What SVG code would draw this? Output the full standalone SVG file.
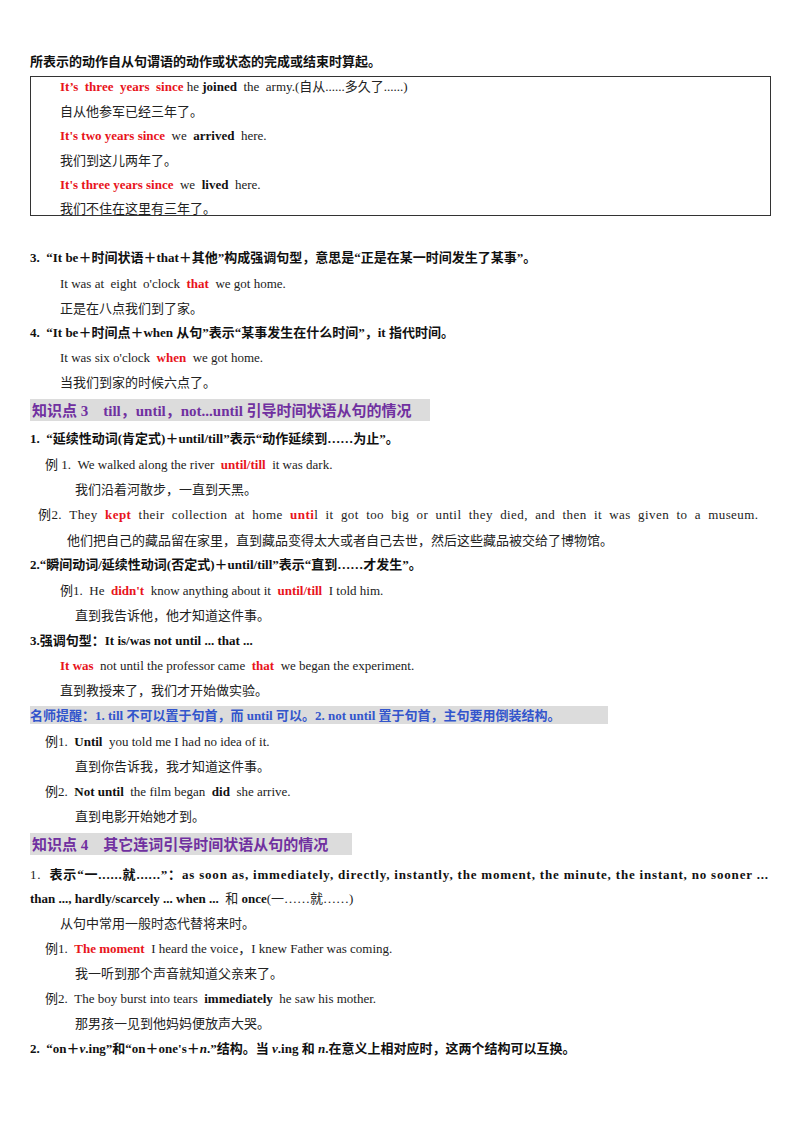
<svg xmlns="http://www.w3.org/2000/svg" width="800" height="1132" viewBox="0 0 800 1132" xml:space="preserve">
<style>
text{font-family:"Liberation Serif","Noto Sans CJK SC",serif;font-size:13px;fill:#222;white-space:pre}
.b{font-weight:bold;fill:#111}
.r{fill:#e8141b;font-weight:bold}
.h{font-size:15px;font-weight:bold;fill:#7030a0}
.m{font-weight:bold;fill:#3355cc}
.hl{fill:#dcdcdc}
</style>
<rect width="800" height="1132" fill="#fff"/>
<g id="box"><rect x="30.5" y="76.5" width="740" height="139" fill="none" stroke="#333" stroke-width="1"/></g>
<g id="hl">
<rect class="hl" x="30" y="399" width="400" height="22"/>
<rect class="hl" x="30" y="706" width="578" height="18"/>
<rect class="hl" x="30" y="833" width="322" height="22"/>
</g>
<g id="texts">
<text x="30" y="66" class="b">所表示的动作自从句谓语的动作或状态的完成或结束时算起。</text>
<text x="60" y="91"><tspan class="r">It’s  three  years  since</tspan> he <tspan class="b">joined</tspan>  the  army.(自从......多久了......)</text>
<text x="60" y="116">自从他参军已经三年了。</text>
<text x="60" y="140"><tspan class="r">It's two years since</tspan>  we  <tspan class="b">arrived</tspan>  here.</text>
<text x="60" y="165">我们到这儿两年了。</text>
<text x="60" y="189"><tspan class="r">It's three years since</tspan>  we  <tspan class="b">lived</tspan>  here.</text>
<text x="60" y="213">我们不住在这里有三年了。</text>
<text x="30" y="262" class="b">3.  “It be＋时间状语＋that＋其他”构成强调句型，意思是“正是在某一时间发生了某事”。</text>
<text x="60" y="288">It was at  eight  o'clock  <tspan class="r">that</tspan>  we got home.</text>
<text x="60" y="313">正是在八点我们到了家。</text>
<text x="30" y="337" class="b">4.  “It be＋时间点＋when 从句”表示“某事发生在什么时间”，it 指代时间。</text>
<text x="60" y="362">It was six o'clock  <tspan class="r">when</tspan>  we got home.</text>
<text x="60" y="387">当我们到家的时候六点了。</text>
<text x="32" y="416" class="h">知识点 3    till，until，not...until 引导时间状语从句的情况</text>
<text x="30" y="443" class="b">1.  “延续性动词(肯定式)＋until/till”表示“动作延续到……为止”。</text>
<text x="45" y="469">例 1.  We walked along the river  <tspan class="r">until/till</tspan>  it was dark.</text>
<text x="75" y="494">我们沿着河散步，一直到天黑。</text>
<text x="38" y="519" textLength="720" lengthAdjust="spacing">例2.  They  <tspan class="r">kept</tspan>  their  collection  at  home  <tspan class="r">unti</tspan>l  it  got  too  big  or  until  they  died,  and  then  it  was  given  to  a  museum.</text>
<text x="67" y="545">他们把自己的藏品留在家里，直到藏品变得太大或者自己去世，然后这些藏品被交给了博物馆。</text>
<text x="30" y="569" class="b">2.“瞬间动词/延续性动词(否定式)＋until/till”表示“直到……才发生”。</text>
<text x="60" y="595">例1.  He  <tspan class="r">didn't</tspan>  know anything about it  <tspan class="r">until/till</tspan>  I told him.</text>
<text x="75" y="620">直到我告诉他，他才知道这件事。</text>
<text x="30" y="645" class="b">3.强调句型：It is/was not until ... that ...</text>
<text x="60" y="670"><tspan class="r">It was</tspan>  not until the professor came  <tspan class="r">that</tspan>  we began the experiment.</text>
<text x="60" y="695">直到教授来了，我们才开始做实验。</text>
<text x="30" y="720" class="m">名师提醒：1. till 不可以置于句首，而 until 可以。2. not until 置于句首，主句要用倒装结构。</text>
<text x="45" y="746">例1.  <tspan class="b">Until</tspan>  you told me I had no idea of it.</text>
<text x="75" y="771">直到你告诉我，我才知道这件事。</text>
<text x="45" y="796">例2.  <tspan class="b">Not until</tspan>  the film began  <tspan class="b">did</tspan>  she arrive.</text>
<text x="75" y="821">直到电影开始她才到。</text>
<text x="32" y="850" class="h">知识点 4    其它连词引导时间状语从句的情况</text>
<text x="30" y="879" textLength="738" lengthAdjust="spacing">1.  <tspan class="b">表示“一......就......”：as soon as, immediately, directly, instantly, the moment, the minute, the instant, no sooner ...</tspan></text>
<text x="30" y="903"><tspan class="b">than ..., hardly/scarcely ... when ...</tspan>  和 <tspan class="b">once</tspan>(一……就……)</text>
<text x="60" y="928">从句中常用一般时态代替将来时。</text>
<text x="45" y="953">例1.  <tspan class="r">The moment</tspan>  I heard the voice，I knew Father was coming.</text>
<text x="75" y="978">我一听到那个声音就知道父亲来了。</text>
<text x="45" y="1003">例2.  The boy burst into tears  <tspan class="b">immediately</tspan>  he saw his mother.</text>
<text x="75" y="1028">那男孩一见到他妈妈便放声大哭。</text>
<text x="30" y="1053" class="b">2.  “on＋<tspan font-style="italic">v</tspan>.ing”和“on＋one's＋<tspan font-style="italic">n</tspan>.”结构。当 <tspan font-style="italic">v</tspan>.ing 和 <tspan font-style="italic">n</tspan>.在意义上相对应时，这两个结构可以互换。</text>
</g>
</svg>
